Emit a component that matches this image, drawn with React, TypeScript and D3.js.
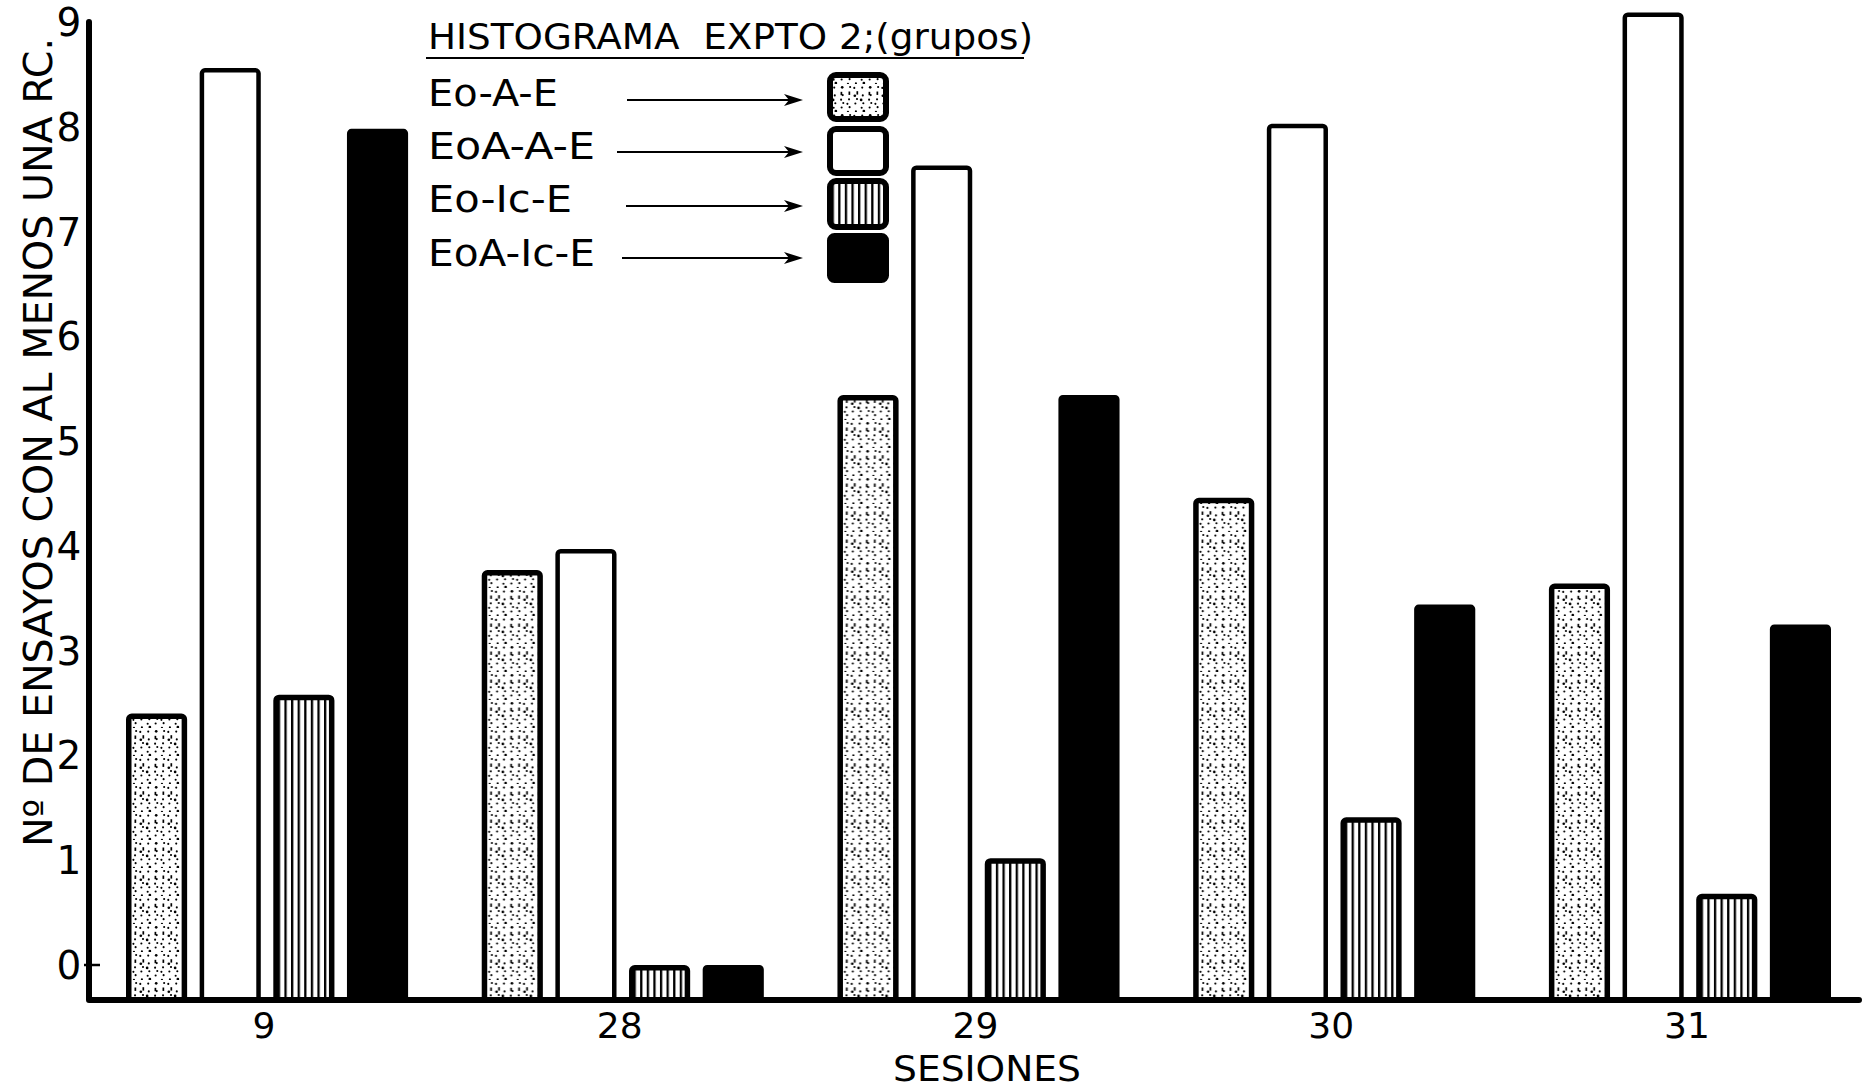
import React from "react";
import * as d3 from "d3";

const sessions = ["9", "28", "29", "30", "31"];
const groups = ["Eo-A-E", "EoA-A-E", "Eo-Ic-E", "EoA-Ic-E"];
const eoAE = [2.4, 3.77, 5.44, 4.46, 3.64];
const eoaAE = [8.56, 3.97, 7.63, 8.03, 9.09];
const eoIcE = [2.58, 0, 1.02, 1.41, 0.68];
const eoaIcE = [7.98, 0, 5.44, 3.44, 3.25];
const seriesValues = [eoAE, eoaAE, eoIcE, eoaIcE];
const yTicks = [0, 1, 2, 3, 4, 5, 6, 7, 8, 9];
const title = "HISTOGRAMA  EXPTO 2;(grupos)";
const yTitle = "Nº DE ENSAYOS CON AL MENOS UNA RC.";
const xTitle = "SESIONES";

const W = 1866;
const H = 1092;
const FONT = "'DejaVu Sans', 'Liberation Sans', sans-serif";

// deterministic stipple texture (R2 quasi-random sequence)
const TILE = 28;
const stippleDots = d3.range(24).map((i) => {
  const a = ((i + 1) * 0.7548776662) % 1;
  const b = ((i + 1) * 0.569840291) % 1;
  return { x: a * TILE, y: b * TILE, r: i % 5 === 0 ? 1.35 : 1.05, long: i % 7 === 3 };
});

export default function App() {
  const axisX = 89;
  const axisY = 1000;
  const y = d3.scaleLinear().domain([0, 9]).range([965, 22]);
  const x0 = d3.scaleBand().domain(sessions).range([126, 1831]).paddingInner(0.207).paddingOuter(0);
  const x1 = d3.scaleBand().domain(groups).range([0, x0.bandwidth()]).paddingInner(0.17).paddingOuter(0);
  const bw = x1.bandwidth();

  const fills = ["url(#stipple)", "#fff", "url(#stripes)", "#000"];
  const strokeW = [5.5, 4.5, 5.5, 3];

  const legendLabelY = [93, 146, 199, 253];
  const legendArrowY = [100, 152, 206, 258];
  const legendArrowX0 = [627, 617, 626, 622];
  const legendSw = [
    [72, 122],
    [126, 176],
    [178, 230],
    [233, 283],
  ];
  const legendTextLen = [130, 167, 144, 167];

  return (
    <svg
      width={W}
      height={H}
      viewBox={`0 0 ${W} ${H}`}
      style={{ position: "fixed", left: 0, top: 0, background: "#fff" }}
    >
      <defs>
        <pattern id="stipple" patternUnits="userSpaceOnUse" width={TILE} height={TILE}>
          <rect width={TILE} height={TILE} fill="#fff" />
          {stippleDots.map((d, i) =>
            d.long ? (
              <rect key={i} x={d.x} y={d.y} width={1.7} height={3.4} fill="#000" />
            ) : (
              <circle key={i} cx={d.x} cy={d.y} r={d.r} fill="#000" />
            )
          )}
        </pattern>
        <pattern id="stripes" patternUnits="userSpaceOnUse" width={6.6} height={10}>
          <rect width={6.6} height={10} fill="#fff" />
          <rect x={0} width={2.3} height={10} fill="#000" />
        </pattern>
      </defs>

      <rect width={W} height={H} fill="#fff" />

      {/* bars */}
      {sessions.map((s, si) => (
        <g key={s} transform={`translate(${x0(s)},0)`}>
          {groups.map((g, gi) => {
            const v = seriesValues[gi][si];
            const sw = strokeW[gi];
            const top = y(v);
            const bx = (x1(g) as number) + sw / 2;
            const by = top + sw / 2;
            return (
              <rect
                key={g}
                x={bx}
                y={by}
                width={bw - sw}
                height={axisY - by}
                rx={3}
                fill={fills[gi]}
                stroke="#000"
                strokeWidth={sw}
              />
            );
          })}
        </g>
      ))}

      {/* axes */}
      <path
        d={`M${axisX},${y(9)} V${axisY} H1859`}
        fill="none"
        stroke="#000"
        strokeWidth={6}
        strokeLinejoin="round"
        strokeLinecap="round"
      />
      <line x1={84} x2={100} y1={y(0)} y2={y(0)} stroke="#000" strokeWidth={2.5} />

      {/* y tick labels */}
      {yTicks.map((t) => (
        <text
          key={t}
          x={69}
          y={y(t)}
          dy="0.36em"
          textAnchor="middle"
          fontFamily={FONT}
          fontSize={39}
          fill="#000"
        >
          {t}
        </text>
      ))}

      {/* y title */}
      <text
        transform={`translate(52,${(38 + 847) / 2}) rotate(-90)`}
        textAnchor="middle"
        fontFamily={FONT}
        fontSize={39}
        textLength={809}
        lengthAdjust="spacingAndGlyphs"
        fill="#000"
      >
        {yTitle}
      </text>

      {/* x labels */}
      {sessions.map((s) => (
        <text
          key={s}
          x={(x0(s) as number) + x0.bandwidth() / 2 - 3}
          y={1038}
          textAnchor="middle"
          fontFamily={FONT}
          fontSize={36}
          fill="#000"
        >
          {s}
        </text>
      ))}
      <text
        x={987}
        y={1081}
        textAnchor="middle"
        fontFamily={FONT}
        fontSize={36}
        textLength={188}
        lengthAdjust="spacingAndGlyphs"
        fill="#000"
      >
        {xTitle}
      </text>

      {/* legend */}
      <text
        x={428}
        y={49}
        fontFamily={FONT}
        fontSize={36}
        textLength={605}
        lengthAdjust="spacingAndGlyphs"
        fill="#000"
        style={{ whiteSpace: "pre" }}
      >
        {title}
      </text>
      <line x1={426} x2={1024} y1={58} y2={58} stroke="#000" strokeWidth={2.2} />
      {groups.map((g, gi) => {
        const ay = legendArrowY[gi];
        const [t, b] = legendSw[gi];
        const sw = gi === 3 ? 3 : 6;
        return (
          <g key={g}>
            <text
              x={428}
              y={legendLabelY[gi]}
              dy="0.36em"
              fontFamily={FONT}
              fontSize={37}
              textLength={legendTextLen[gi]}
              lengthAdjust="spacingAndGlyphs"
              fill="#000"
            >
              {g}
            </text>
            <line x1={legendArrowX0[gi]} x2={792} y1={ay} y2={ay} stroke="#000" strokeWidth={2.2} />
            <path d={`M803,${ay} L784,${ay - 6} L789,${ay} L784,${ay + 6} Z`} fill="#000" />
            <rect
              x={827 + sw / 2}
              y={t + sw / 2}
              width={62 - sw}
              height={b - t - sw}
              rx={6}
              fill={fills[gi]}
              stroke="#000"
              strokeWidth={sw}
            />
          </g>
        );
      })}
    </svg>
  );
}
